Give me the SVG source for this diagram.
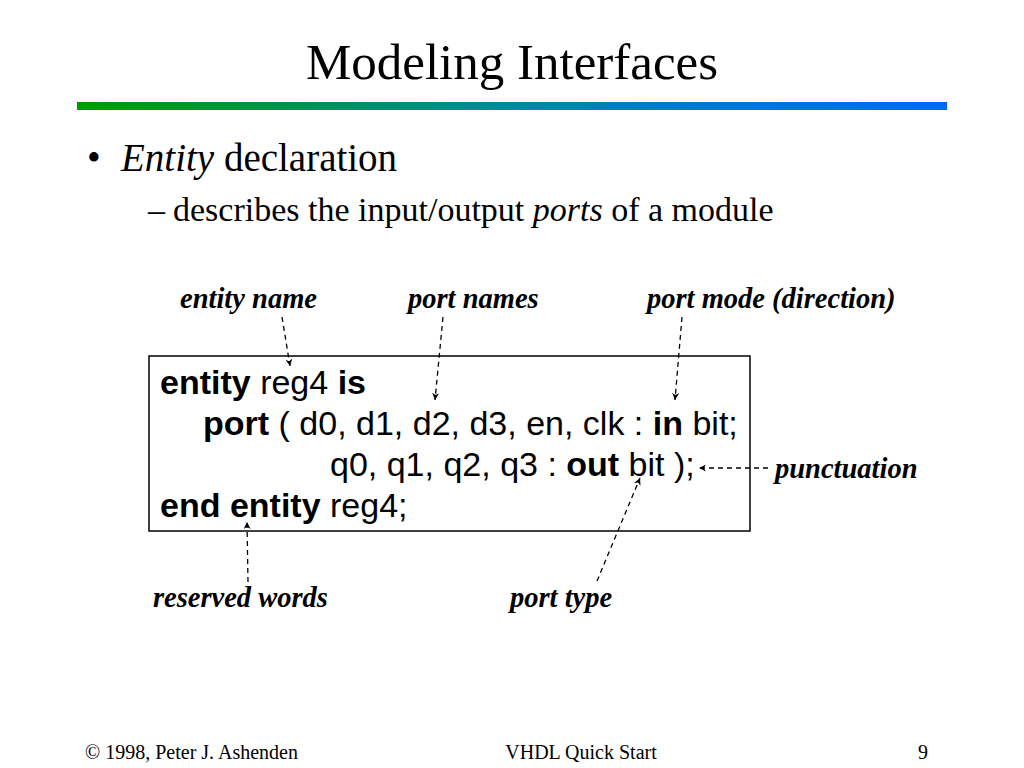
<svg xmlns="http://www.w3.org/2000/svg" width="1024" height="768" viewBox="0 0 1024 768">
<defs>
<linearGradient id="bar" x1="0" y1="0" x2="1" y2="0">
<stop offset="0" stop-color="#009a00"/>
<stop offset="0.5" stop-color="#0088a0"/>
<stop offset="1" stop-color="#0066ff"/>
</linearGradient>
<marker id="ah" viewBox="0 0 10 10" refX="10" refY="5" markerWidth="7" markerHeight="7" markerUnits="userSpaceOnUse" orient="auto">
<path d="M0,0 L10,5 L0,10 L3,5 z" fill="#000"/>
</marker>
<style>
.title{font-family:"Liberation Serif","Times New Roman",serif;font-size:51px;fill:#000}
.b1{font-family:"Liberation Serif","Times New Roman",serif;font-size:39px;fill:#000}
.b2{font-family:"Liberation Serif","Times New Roman",serif;font-size:34px;fill:#000}
.note{font-family:"Liberation Serif","Times New Roman",serif;font-size:28.5px;font-weight:bold;font-style:italic;fill:#000}
.code{font-family:"Liberation Sans",Arial,sans-serif;font-size:34px;fill:#000}
.kw{font-weight:bold}
.foot{font-family:"Liberation Serif","Times New Roman",serif;font-size:20px;fill:#000}
.conn{fill:none;stroke:#000;stroke-width:1.3;stroke-dasharray:5 4;marker-end:url(#ah)}
</style>
</defs>
<rect width="1024" height="768" fill="#fff"/>
<g id="title">
<text class="title" x="512" y="79" text-anchor="middle">Modeling Interfaces</text>
<rect x="77" y="102" width="870" height="8" fill="url(#bar)"/>
</g>
<g id="bullets">
<text class="b1" x="87" y="171">•</text>
<text class="b1" x="121" y="171"><tspan font-style="italic">Entity</tspan> declaration</text>
<text class="b2" x="148" y="221" font-size="30">–</text>
<text class="b2" x="173" y="221">describes the input/output <tspan font-style="italic">ports</tspan> of a module</text>
</g>
<g id="code">
<rect x="149" y="356" width="601" height="175" fill="#fff" stroke="#000" stroke-width="1.5"/>
<text class="code" x="160" y="394"><tspan class="kw">entity</tspan> reg4 <tspan class="kw">is</tspan></text>
<text class="code" x="203" y="435"><tspan class="kw">port</tspan> ( d0, d1, d2, d3, en, clk : <tspan class="kw">in</tspan> bit;</text>
<text class="code" x="330" y="476">q0, q1, q2, q3 : <tspan class="kw">out</tspan> bit );</text>
<text class="code" x="160" y="517"><tspan class="kw">end entity</tspan> reg4;</text>
</g>
<g id="label-entity-name"><text class="note" x="180" y="308">entity name</text></g>
<g id="label-port-names"><text class="note" x="408" y="308">port names</text></g>
<g id="label-port-mode"><text class="note" x="647" y="308">port mode (direction)</text></g>
<g id="label-punctuation"><text class="note" x="775" y="478">punctuation</text></g>
<g id="label-reserved-words"><text class="note" x="153" y="607">reserved words</text></g>
<g id="label-port-type"><text class="note" x="510" y="607">port type</text></g>
<g id="connectors">
<line class="conn" x1="282" y1="317" x2="290" y2="366"/>
<line class="conn" x1="443" y1="317" x2="435" y2="400"/>
<line class="conn" x1="682" y1="317" x2="675" y2="400"/>
<line class="conn" x1="768" y1="468" x2="699" y2="468"/>
<line class="conn" x1="248" y1="582" x2="247" y2="522"/>
<line class="conn" x1="597" y1="581" x2="640" y2="478"/>
</g>
<g id="footer">
<text class="foot" x="85" y="759">© 1998, Peter J. Ashenden</text>
<text class="foot" x="581" y="759" text-anchor="middle">VHDL Quick Start</text>
<text class="foot" x="918" y="759">9</text>
</g>
</svg>
